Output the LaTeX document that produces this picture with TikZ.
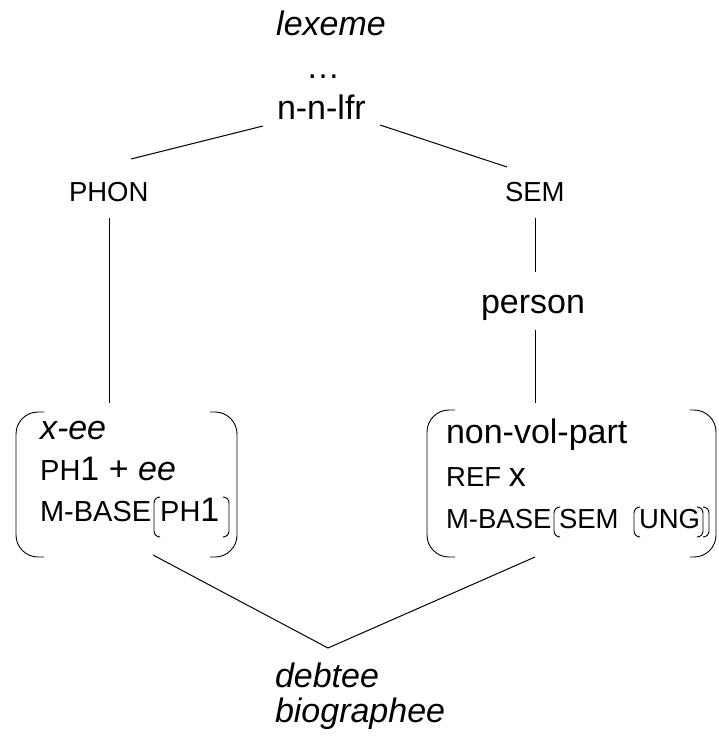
\documentclass[tikz,border=0pt]{standalone}
\usepackage{fontspec}
\setmainfont{Liberation Sans}
\tikzset{
  big/.style={font=\fontsize{34}{40}\selectfont, inner sep=0pt, outer sep=0pt},
  sm/.style={font=\fontsize{27.5}{32}\selectfont, inner sep=0pt, outer sep=0pt},
  sml/.style={font=\fontsize{29}{34}\selectfont, inner sep=0pt, outer sep=0pt},
  ln/.style={line width=1pt, black},
  brk/.style={line width=0.9pt, black}
}
\newcommand{\bg}[1]{{\fontsize{34}{40}\selectfont #1}}
\begin{document}
\begin{tikzpicture}[x=1pt,y=-1pt]
\useasboundingbox (0,0) rectangle (718,744);
% top
\node[big, anchor=base] (lex) at (331,35) {\itshape lexeme};
\node[big, anchor=base] (dots) at (323,78) {…};
\node[big, anchor=base west] (nnlfr) at (277,119) {n-n-lfr};
\node[sm, anchor=base west] (phon) at (69,201) {PHON};
\node[sm, anchor=base west] (sem) at (505,201) {SEM};
\node[big, anchor=base west] (person) at (481,313) {person};
% connector endpoints
\coordinate (nl) at (263,126);
\coordinate (pl) at (131,159);
\coordinate (nr) at (380,125);
\coordinate (sr) at (507,167);
\coordinate (pt) at (109,218);
\coordinate (pb) at (109,403);
\coordinate (st) at (535,218);
\coordinate (sb) at (535,272);
\coordinate (pet) at (535,330);
\coordinate (peb) at (535,403);
\coordinate (lb) at (153,555);
\coordinate (rb) at (535,557);
\coordinate (apex) at (328,648);
\draw[ln] (nl) -- (pl);
\draw[ln] (nr) -- (sr);
\draw[ln] (pt) -- (pb);
\draw[ln] (st) -- (sb);
\draw[ln] (pet) -- (peb);
\draw[ln] (lb) -- (apex) -- (rb);
% left box
\node[big, anchor=base west] (xee) at (40,439) {\itshape x-ee};
\node[anchor=base west, inner sep=0pt] (ph1ee) at (40,480) {\fontsize{29}{34}\selectfont PH\bg{1 + \itshape ee}};
\node[sml, anchor=base west] (mb1) at (40,521) {M-BASE};
\node[anchor=base west, inner sep=0pt] (ph1) at (160,521) {\fontsize{29}{34}\selectfont PH\bg{1}};
\draw[brk, rounded corners=22pt] (44,412) -- (16,412) -- (16,557) -- (44,557);
\draw[brk, rounded corners=22pt] (210,412) -- (237,412) -- (237,557) -- (210,557);
\draw[brk, rounded corners=6pt] (159,497) -- (154,497) -- (154,537) -- (159,537);
\draw[brk, rounded corners=6pt] (224,497) -- (229,497) -- (229,537) -- (224,537);
% right box
\node[big, anchor=base west] (nvp) at (446,443) {non-vol-part};
\node[anchor=base west, inner sep=0pt] (refx) at (446,486) {\fontsize{27.5}{32}\selectfont REF \bg{x}};
\node[sm, anchor=base west] (mb2) at (446,528) {M-BASE};
\node[sm, anchor=base west] (semi) at (559,528) {SEM};
\node[sm, anchor=base west] (ung) at (639,528) {UNG};
\draw[brk, rounded corners=22pt] (455,410) -- (427,410) -- (427,557) -- (455,557);
\draw[brk, rounded corners=22pt] (690,410) -- (716,410) -- (716,557) -- (690,557);
\draw[brk, rounded corners=6pt] (559,507) -- (554,507) -- (554,537) -- (559,537);
\draw[brk, rounded corners=6pt] (639,507) -- (634,507) -- (634,537) -- (639,537);
\draw[brk, rounded corners=6pt] (698,507) -- (703,507) -- (703,537) -- (698,537);
\draw[brk, rounded corners=6pt] (704,507) -- (709,507) -- (709,537) -- (704,537);
% bottom
\node[big, anchor=base west] (deb) at (275,687) {\itshape debtee};
\node[big, anchor=base west] (bio) at (275,722) {\itshape biographee};
\end{tikzpicture}
\end{document}
